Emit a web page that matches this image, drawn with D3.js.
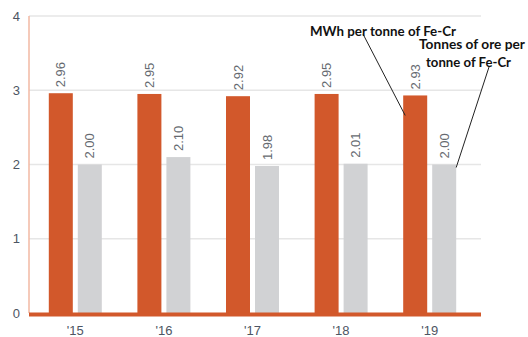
<!DOCTYPE html>
<html>
<head>
<meta charset="utf-8">
<script src="https://cdn.jsdelivr.net/npm/d3@7"></script>
<style>
  html, body { margin: 0; padding: 0; background: #fff; }
  svg { display: block; }
</style>
</head>
<body>
<svg id="chart" width="528" height="337"></svg>
<script>
// Years shown along the x axis
const years = ["'15", "'16", "'17", "'18", "'19"];
// Electricity use, MWh per tonne of ferrochrome
const mwhPerTonne = [2.96, 2.95, 2.92, 2.95, 2.93];
// Ore use, tonnes of ore per tonne of ferrochrome
const orePerTonne = [2.00, 2.10, 1.98, 2.01, 2.00];
// Y axis ticks
const yTicks = [0, 1, 2, 3, 4];
const seriesNames = ["MWh per tonne of Fe-Cr", "Tonnes of ore per tonne of Fe-Cr"];

const svg = d3.select("#chart");
const plotLeft = 29, plotRight = 481, plotTop = 16, plotBottom = 313;

const x = d3.scaleBand().domain(years).range([31, 474]).paddingInner(0).paddingOuter(0);
const y = d3.scaleLinear().domain([0, 4]).range([plotBottom, plotTop]);

const barW = 24, gap = 5;
const groupW = barW * 2 + gap;

// Gridlines
svg.append("g").selectAll("line").data(yTicks.filter(d => d > 0)).join("line")
  .attr("x1", plotLeft).attr("x2", plotRight)
  .attr("y1", d => y(d)).attr("y2", d => y(d))
  .attr("stroke", "#e6e6e6").attr("stroke-width", 1.5);

// Left axis line
svg.append("line")
  .attr("x1", plotLeft).attr("x2", plotLeft)
  .attr("y1", y(4)).attr("y2", plotBottom)
  .attr("stroke", "#f2b9a3").attr("stroke-width", 1.5);

// Y tick labels
svg.append("g").selectAll("text").data(yTicks).join("text")
  .attr("x", 20).attr("y", d => y(d))
  .attr("dy", "0.36em")
  .attr("text-anchor", "end")
  .attr("font-family", "Liberation Sans, Arial, sans-serif")
  .attr("font-size", 13)
  .attr("fill", "#4d5563")
  .text(d => d);

const series = [
  { values: mwhPerTonne, color: "#d2582b", offset: 0 },
  { values: orePerTonne, color: "#d1d2d4", offset: barW + gap }
];

series.forEach(s => {
  const g = svg.append("g");
  const bx = (i) => x(years[i]) + (x.bandwidth() - groupW) / 2 + s.offset;
  g.selectAll("rect").data(s.values).join("rect")
    .attr("x", (d, i) => bx(i))
    .attr("y", d => y(d))
    .attr("width", barW)
    .attr("height", d => y(0) - y(d))
    .attr("fill", s.color);
  g.selectAll("text").data(s.values).join("text")
    .attr("transform", (d, i) => `translate(${bx(i) + barW / 2 + 4.5},${y(d) - 6}) rotate(-90)`)
    .attr("text-anchor", "start")
    .attr("font-family", "Liberation Sans, Arial, sans-serif")
    .attr("font-size", 13)
    .attr("fill", "#666a70")
    .text(d => d.toFixed(2));
});

// Zero baseline
svg.append("line")
  .attr("x1", plotLeft).attr("x2", plotRight)
  .attr("y1", y(0) + 1.5).attr("y2", y(0) + 1.5)
  .attr("stroke", "#d2582b").attr("stroke-width", 4);

// X labels
svg.append("g").selectAll("text").data(years).join("text")
  .attr("x", d => x(d) + x.bandwidth() / 2)
  .attr("y", 335)
  .attr("text-anchor", "middle")
  .attr("font-family", "Liberation Sans, Arial, sans-serif")
  .attr("font-size", 13)
  .attr("fill", "#4d5563")
  .text(d => d);

// Series call-outs with leader lines
const lbl = svg.append("g")
  .attr("font-family", "Lato, sans-serif")
  .attr("font-weight", "bold")
  .attr("font-size", 14)
  .attr("fill", "#111");

const i4 = 4;
const orangeX = x(years[i4]) + (x.bandwidth() - groupW) / 2;
const grayX = orangeX + barW + gap;

lbl.append("line")
  .attr("x1", 363).attr("y1", 34)
  .attr("x2", orangeX + 2).attr("y2", y(mwhPerTonne[i4]) + 20)
  .attr("stroke", "#222").attr("stroke-width", 1);
lbl.append("line")
  .attr("x1", 489).attr("y1", 67)
  .attr("x2", grayX + barW).attr("y2", y(orePerTonne[i4]) + 3)
  .attr("stroke", "#222").attr("stroke-width", 1);

lbl.append("text").attr("x", 310).attr("y", 36)
  .attr("textLength", 146).attr("lengthAdjust", "spacingAndGlyphs")
  .text(seriesNames[0]);
lbl.append("text").attr("x", 419).attr("y", 49)
  .attr("textLength", 106).attr("lengthAdjust", "spacingAndGlyphs")
  .text("Tonnes of ore per");
lbl.append("text").attr("x", 426).attr("y", 67)
  .attr("textLength", 85).attr("lengthAdjust", "spacingAndGlyphs")
  .text("tonne of Fe-Cr");
</script>
</body>
</html>
